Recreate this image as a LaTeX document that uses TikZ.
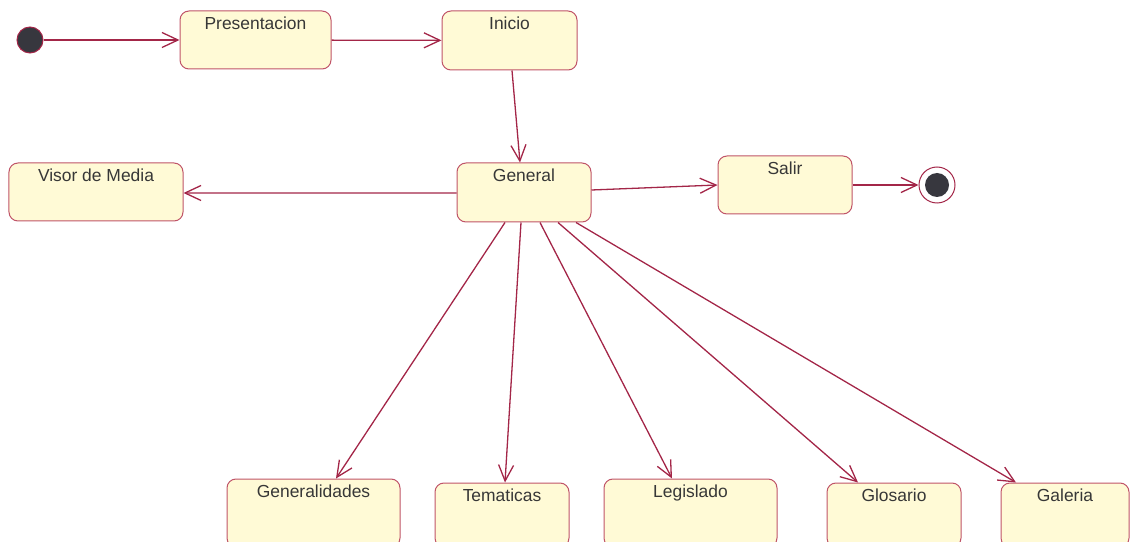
\documentclass[tikz,border=0pt]{standalone}
\usepackage{fontspec}
\setmainfont{Liberation Sans}
\usetikzlibrary{arrows.meta}
\definecolor{umlred}{RGB}{163,38,72}
\definecolor{umlbox}{RGB}{255,250,214}
\definecolor{umledge}{RGB}{192,84,104}
\definecolor{umltext}{RGB}{55,55,55}
\definecolor{umldot}{RGB}{55,55,62}
\tikzset{
state/.style={draw=umledge, fill=umlbox, line width=1bp, rounded corners=9bp, inner sep=0pt},
statename/.style={text=umltext, font=\fontsize{17.5}{19}\selectfont, anchor=north, inner sep=0pt},
trans/.style={draw=umlred, line width=1.3bp, -{Straight Barb[length=16bp,width=15bp]}},
initdot/.style={circle, draw=umlred, fill=umldot, line width=1bp, minimum size=26bp, inner sep=0pt},
finalring/.style={circle, draw=umlred, fill=white, line width=1bp, minimum size=36bp, inner sep=0pt},
finaldot/.style={circle, fill=umldot, minimum size=24bp, inner sep=0pt}}

\begin{document}
\begin{tikzpicture}[x=1bp,y=-1bp]
    \useasboundingbox (0,0) rectangle (1130,542);
    \clip (0,0) rectangle (1130,542);

    \node[initdot] (start) at (30,40) {};
    \node[state, minimum width=151bp, minimum height=58bp] (pres) at (255.5,40) {};
    \node[state, minimum width=135bp, minimum height=59bp] (inicio) at (509.5,40.5) {};
    \node[state, minimum width=134bp, minimum height=59bp] (general) at (524,192.5) {};
    \node[state, minimum width=174bp, minimum height=58bp] (visor) at (96,192) {};
    \node[state, minimum width=134bp, minimum height=58bp] (salir) at (785,185) {};
    \node[finalring] (final) at (937,185) {};
    \node[finaldot] (finaldot) at (final) {};

    \node[state, minimum width=173bp, minimum height=68bp] (generalidades) at (313.5,513) {};
    \node[state, minimum width=134bp, minimum height=64bp] (tematicas) at (502,515) {};
    \node[state, minimum width=173bp, minimum height=68bp] (legislado) at (690.5,513) {};
    \node[state, minimum width=134bp, minimum height=64bp] (glosario) at (894,515) {};
    \node[state, minimum width=128bp, minimum height=64bp] (galeria) at (1065,515) {};

    \node[statename] (presname) at ([yshift=-6bp]pres.north) {Presentacion};
    \node[statename] (inicioname) at ([yshift=-6bp]inicio.north) {Inicio};
    \node[statename] (generalname) at ([yshift=-6bp]general.north) {General};
    \node[statename] (visorname) at ([yshift=-6bp]visor.north) {Visor de Media};
    \node[statename] (salirname) at ([yshift=-6bp]salir.north) {Salir};
    \node[statename] (generalidadesname) at ([yshift=-6bp]generalidades.north) {Generalidades};
    \node[statename] (tematicasname) at ([yshift=-6bp]tematicas.north) {Tematicas};
    \node[statename] (legisladoname) at ([yshift=-6bp]legislado.north) {Legislado};
    \node[statename] (glosarioname) at ([yshift=-6bp]glosario.north) {Glosario};
    \node[statename] (galerianame) at ([yshift=-6bp]galeria.north) {Galeria};

    \draw[trans] (start) -- (pres);
    \draw[trans] (pres) -- (inicio);
    \draw[trans] ([xshift=2.5bp]inicio.south) -- ([xshift=-4bp]general.north);
    \draw[trans] ([yshift=-0.5bp]general.west) -- ([yshift=-1bp]visor.east);
    \draw[trans] ([yshift=2.5bp]general.east) -- (salir.west);
    \draw[trans] (salir) -- (final);

    \draw[trans] ([xshift=-19bp]general.south) -- ([xshift=22.5bp]generalidades.north);
    \draw[trans] ([xshift=-3bp]general.south) -- ([xshift=3bp]tematicas.north);
    \draw[trans] ([xshift=16bp]general.south) -- ([xshift=-18.5bp]legislado.north);
    \draw[trans] ([xshift=34bp]general.south) -- ([xshift=-36bp]glosario.north);
    \draw[trans] ([xshift=52bp]general.south) -- ([xshift=-49bp]galeria.north);

\end{tikzpicture}
\end{document}
